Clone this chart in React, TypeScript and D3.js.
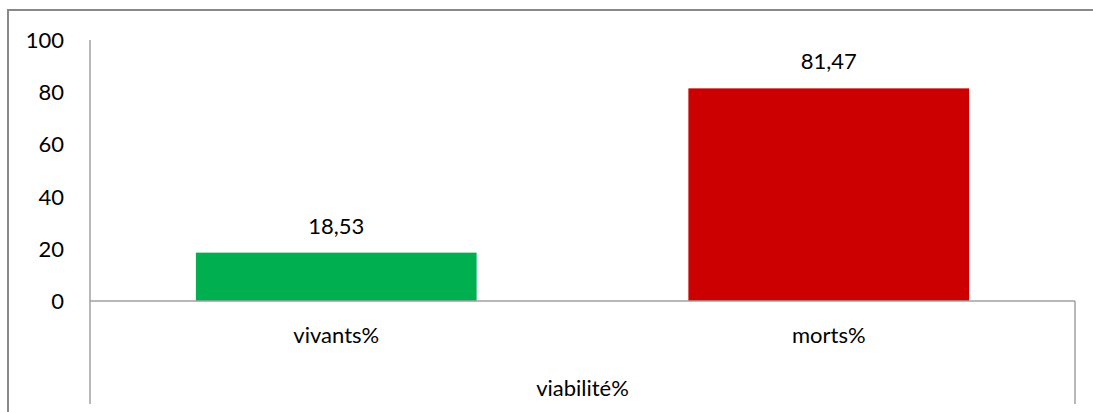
import React from "react";
import * as d3 from "d3";

const categories = ["vivants%", "morts%"];
const values = [18.53, 81.47];
const colors = ["#00B050", "#CC0000"];
const groupLabel = "viabilité%";
const yTicks = [0, 20, 40, 60, 80, 100];

const W = 1093;
const H = 412;
const FONT = "Lato, 'Open Sans', sans-serif";
const FS = 22;

export default function App() {
  const left = 90, right = 1075, top = 40, bottom = 301, lowest = 404;
  const x = d3.scaleBand<string>().domain(categories).range([left, right]).paddingInner(0.43).paddingOuter(0.215);
  const y = d3.scaleLinear().domain([0, 100]).range([bottom, top]);
  const fmt = (v: number) => v.toFixed(2).replace(".", ",");
  return (
    <svg width={W} height={H} style={{ position: "absolute", left: 0, top: 0 }}>
      <rect x={0} y={0} width={W} height={H} fill="#fff" />
      <rect x={8} y={10} width={1200} height={600} fill="none" stroke="#888" strokeWidth={2} />
      {categories.map((c, i) => (
        <rect key={c} x={x(c)} y={y(values[i])} width={x.bandwidth()} height={y(0) - y(values[i])} fill={colors[i]} />
      ))}
      <line x1={left} x2={left} y1={top} y2={lowest} stroke="#a0a0a0" strokeWidth={1.5} />
      <line x1={left} x2={right} y1={y(0)} y2={y(0)} stroke="#a0a0a0" strokeWidth={1.5} />
      <line x1={right} x2={right} y1={y(0)} y2={lowest} stroke="#a0a0a0" strokeWidth={1.5} />
      {yTicks.map((t) => (
        <text key={t} x={64} y={y(t)} dy="0.36em" textAnchor="end" fontFamily={FONT} fontSize={FS} fill="#000">{t}</text>
      ))}
      {categories.map((c, i) => (
        <text key={c} x={x(c)! + x.bandwidth() / 2} y={y(values[i]) - 19} textAnchor="middle" fontFamily={FONT} fontSize={FS} fill="#000">{fmt(values[i])}</text>
      ))}
      {categories.map((c) => (
        <text key={c} x={x(c)! + x.bandwidth() / 2} y={343} textAnchor="middle" fontFamily={FONT} fontSize={FS} fill="#000">{c}</text>
      ))}
      <text x={(left + right) / 2} y={396} textAnchor="middle" fontFamily={FONT} fontSize={FS} fill="#000">{groupLabel}</text>
    </svg>
  );
}
